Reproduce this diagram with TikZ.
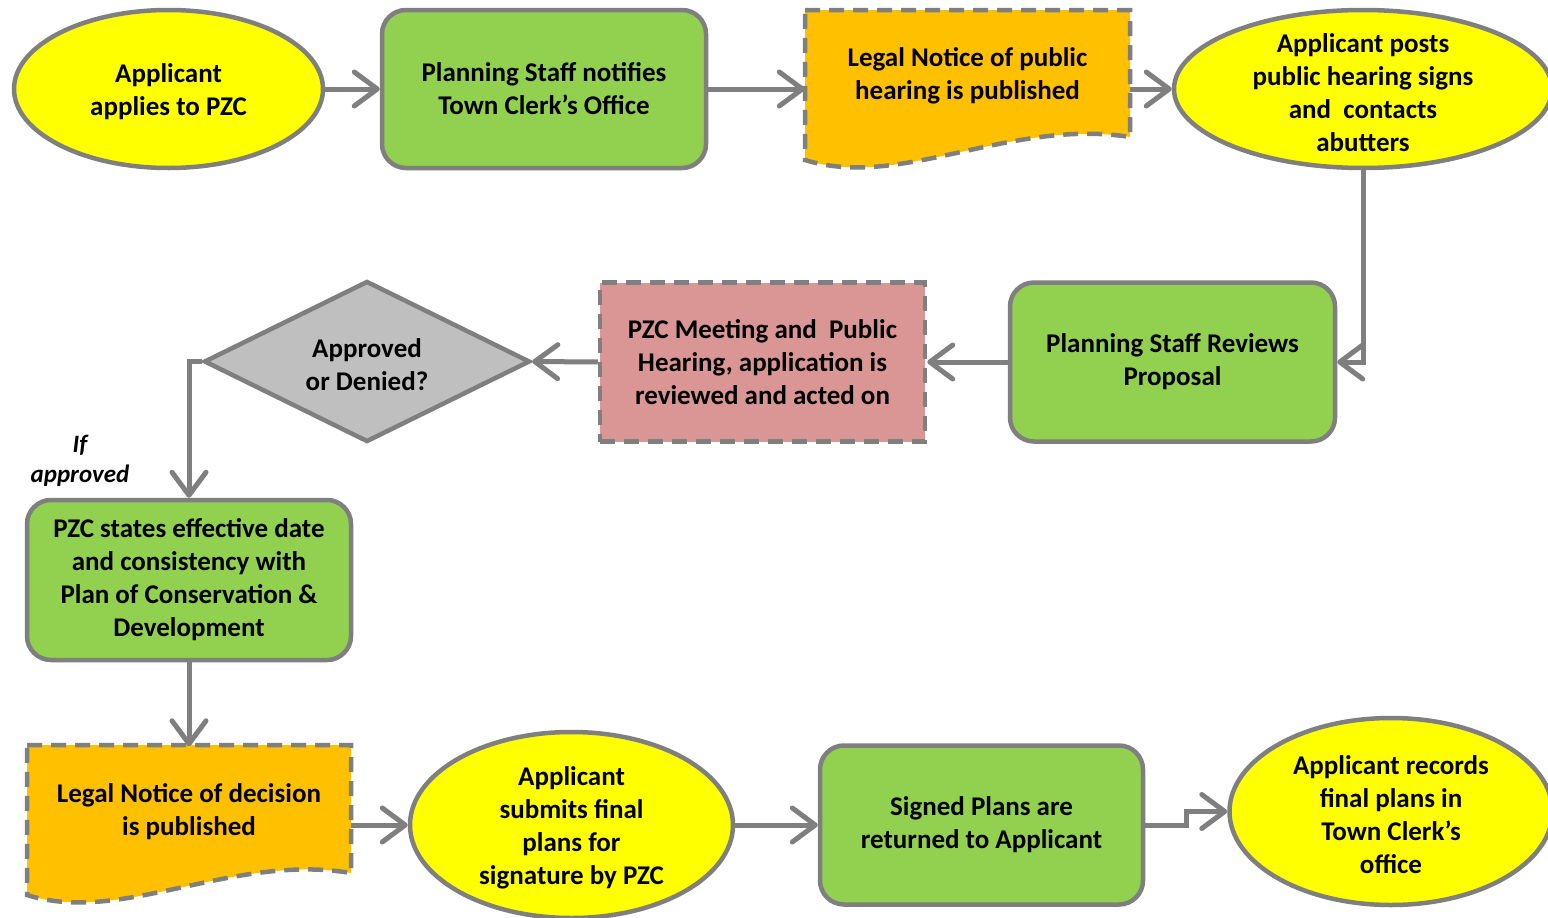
\documentclass[tikz,border=0pt]{standalone}
\usepackage{fontspec}
\setmainfont{Carlito}
\usetikzlibrary{shapes.geometric,arrows.meta}
\definecolor{yel}{HTML}{FFFF00}
\definecolor{grn}{HTML}{92D050}
\definecolor{org}{HTML}{FFC000}
\definecolor{pnk}{HTML}{D99694}
\definecolor{gry}{HTML}{BFBFBF}
\definecolor{edgec}{HTML}{7F7F7F}
\begin{document}
\begin{tikzpicture}[x=1pt,y=-1pt,
  txt/.style={font=\bfseries\fontsize{27}{33}\selectfont, align=center, text=black, inner sep=0pt},
  outl/.style={draw=edgec, line width=4.5pt},
  greenbox/.style={txt, outl, rectangle, rounded corners=24pt, fill=grn},
  pinkbox/.style={txt, outl, rectangle, fill=pnk, dash pattern=on 15pt off 9pt},
  oval/.style={outl, ellipse, fill=yel, inner sep=0pt},
  docshape/.style={outl, fill=org, dash pattern=on 15pt off 9pt},
  decision/.style={outl, diamond, fill=gry, inner sep=0pt},
  conn/.style={draw=edgec, line width=5pt, -{Straight Barb[round,length=23pt,width=34pt]}}
]
\clip (0,0) rectangle (1548,918);
\fill[white] (0,0) rectangle (1548,918);

% top row
\node[oval, minimum width=309pt, minimum height=158pt] (a1) at (168.5,89) {};
\node[txt] (a1t) at (168.5,92) {Applicant\\applies to PZC};

\node[greenbox, minimum width=324pt, minimum height=158pt] (a2) at (544,89) {Planning Staff notifies\\Town Clerk’s Office};

\path[docshape] (805,10) -- (1130,10) -- (1130,137) .. controls (1010,118) and (900,190) .. (805,160) -- cycle;
\node[txt, minimum width=325pt, minimum height=127pt] (a3) at (967.5,75.5) {Legal Notice of public\\hearing is published};

\node[oval, minimum width=378pt, minimum height=158pt] (a4) at (1363,89) {};
\node[txt] (a4t) at (1363,92.5) {Applicant posts\\public hearing signs\\and\ \ contacts\\abutters};

% middle row
\node[greenbox, minimum width=325pt, minimum height=159pt] (a6) at (1172.5,362) {Planning Staff Reviews\\Proposal};
\node[pinkbox, minimum width=325pt, minimum height=159pt] (a7) at (762.5,362) {PZC Meeting and\ \ Public\\Hearing, application is\\reviewed and acted on};
\node[decision, minimum width=326pt, minimum height=161pt] (a8) at (367,361.5) {};
\node[txt] (a8t) at (367,365) {Approved\\or Denied?};

\node[txt, font=\bfseries\itshape\fontsize{25}{30}\selectfont] (lbl) at (80,461) {If\\approved};

\node[greenbox, minimum width=324pt, minimum height=160pt] (a11) at (189,580) {PZC states effective date\\and consistency with\\Plan of Conservation \&\\Development};

% bottom row
\path[docshape] (27,745) -- (351,745) -- (351,873) .. controls (232,853) and (122,925) .. (27,895) -- cycle;
\node[txt, minimum width=324pt, minimum height=130pt] (a13) at (189,811.5) {Legal Notice of decision\\is published};

\node[oval, minimum width=323pt, minimum height=186pt] (a14) at (571.5,825) {};
\node[txt] (a14t) at (571.5,828) {Applicant\\submits final\\plans for\\signature by PZC};

\node[greenbox, minimum width=323pt, minimum height=159pt] (a15) at (981.5,825) {Signed Plans are\\returned to Applicant};

\node[oval, minimum width=323pt, minimum height=187pt] (a16) at (1391,811.5) {};
\node[txt] (a16t) at (1391,815) {Applicant records\\final plans in\\Town Clerk’s\\office};

% connectors
\draw[conn] (a1.east) -- (a2.west);
\draw[conn] (a2.east) -- (a2.east -| a3.west);
\draw[conn] (a2.east -| a3.east) -- (a4.west);
\draw[conn] (a4.south) |- (a6.east);
\draw[conn] (a6.west) -- (a7.east);
\draw[conn] (a7.west) -- (a8.east);
\draw[conn] (a8.west) -| (a11.north);
\draw[conn] (a11.south) -- (a13.north);
\draw[conn] (a13.east |- a14.west) -- (a14.west);
\draw[conn] (a14.east) -- (a15.west);
\draw[conn] (a15.east) -- ++(41,0) |- (a16.west);
\end{tikzpicture}
\end{document}
